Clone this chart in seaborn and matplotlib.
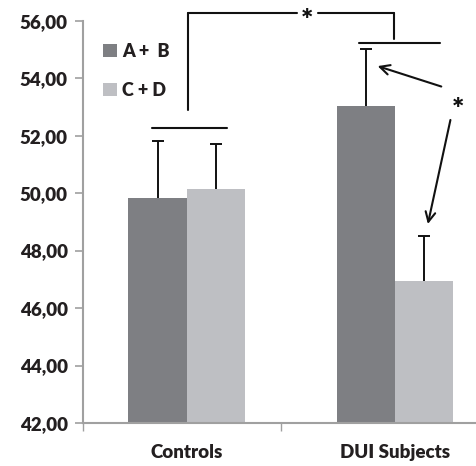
import matplotlib
matplotlib.use("Agg")
import matplotlib.pyplot as plt
import seaborn as sns
import pandas as pd
import numpy as np

groups = ["Controls", "DUI Subjects"]
series = ["A +  B", "C + D"]
means_ab = [49.84, 53.04]
means_cd = [50.16, 46.94]
err_ab = [1.97, 1.98]
err_cd = [1.54, 1.56]
yticks = [42, 44, 46, 48, 50, 52, 54, 56]

colors = ["#7e7f83", "#bebfc3"]

df = pd.DataFrame({
    "group": groups * 2,
    "series": [series[0]] * 2 + [series[1]] * 2,
    "value": means_ab + means_cd,
    "err": err_ab + err_cd,
})

sns.set_style("white")
plt.rcParams["font.family"] = ["Lato", "DejaVu Sans"]
plt.rcParams["font.weight"] = "bold"

fig = plt.figure(figsize=(4.76, 4.66), dpi=100)
ax = fig.add_axes([83 / 476, 1 - 423 / 466, 1 - 83 / 476, (423 - 20.7) / 466])

sns.barplot(data=df, x="group", y="value", hue="series", order=groups,
            hue_order=series, palette=colors, width=0.56, gap=0,
            errorbar=None, saturation=1, ax=ax, legend=True, linewidth=0)

# error bars (upper only)
for cont, errs in zip(ax.containers, [err_ab, err_cd]):
    for patch, e in zip(cont.patches, errs):
        xc = patch.get_x() + patch.get_width() / 2
        top = patch.get_y() + patch.get_height()
        line, caps, bars = ax.errorbar(xc, top, yerr=[[0], [e]], fmt="none",
                                       ecolor="#111111", elinewidth=1.4,
                                       capsize=4, capthick=1.4, zorder=3)
        caps[0].set_visible(False)

ax.set_ylim(42, 56)
ax.set_xlim(-0.498, 1.389)
ax.set_yticks(yticks)
ax.set_yticklabels([f"{v:.2f}".replace(".", ",") for v in yticks],
                   fontsize=13.5, fontweight="heavy", color="#231f20")
ax.set_xticks([0, 1])
ax.set_xticklabels(groups, fontsize=13.5, fontweight="heavy", color="#231f20")
ax.tick_params(axis="x", length=0, pad=15)
ax.tick_params(axis="y", length=6, width=1.2, color="#a0a0a0", left=True, pad=5)
ax.set_xticks([-0.498, 0.453], minor=True)
ax.tick_params(axis="x", which="minor", length=6, width=1.0, color="#a0a0a0",
               bottom=True, direction="out")
ax.set_xlabel("")
ax.set_ylabel("")

for s in ["top", "right"]:
    ax.spines[s].set_visible(False)
for s in ["left", "bottom"]:
    ax.spines[s].set_color("#a0a0a0")
    ax.spines[s].set_linewidth(1.5)

# legend
leg = ax.legend(loc="upper left", bbox_to_anchor=(0.01, 0.985), frameon=False,
                handlelength=0.75, handleheight=0.75, handletextpad=0.3,
                labelspacing=1.2, prop={"family": "Lato", "weight": "heavy", "size": 13})
for t in leg.get_texts():
    t.set_color("#231f20")

# annotations
lc = "#111111"
lw = 1.5
kw = dict(color=lc, lw=lw, clip_on=False)
ax.plot([-0.167, 0.193], [52.27, 52.27], **kw)
ax.plot([0.005, 0.005], [52.89, 56.285], **kw)
ax.plot([0.005, 0.528], [56.285, 56.285], **kw)
ax.plot([0.629, 0.997], [56.285, 56.285], **kw)
ax.plot([0.997, 0.997], [56.285, 55.36], **kw)
ax.plot([0.827, 1.216], [55.24, 55.24], **kw)
ax.text(0.578, 55.98, "*", ha="center", va="center", fontsize=21,
        fontweight="heavy", color=lc, clip_on=False)
ax.text(1.302, 52.9, "*", ha="center", va="center", fontsize=21,
        fontweight="heavy", color=lc, clip_on=False)
ap = dict(arrowstyle="->,head_length=0.7,head_width=0.35", color=lc, lw=lw)
ax.annotate("", xy=(0.904, 54.45), xytext=(1.235, 53.68), arrowprops=ap,
            annotation_clip=False)
ax.annotate("", xy=(1.155, 48.83), xytext=(1.269, 52.64), arrowprops=ap,
            annotation_clip=False)

fig.savefig("out.png", dpi=100)
